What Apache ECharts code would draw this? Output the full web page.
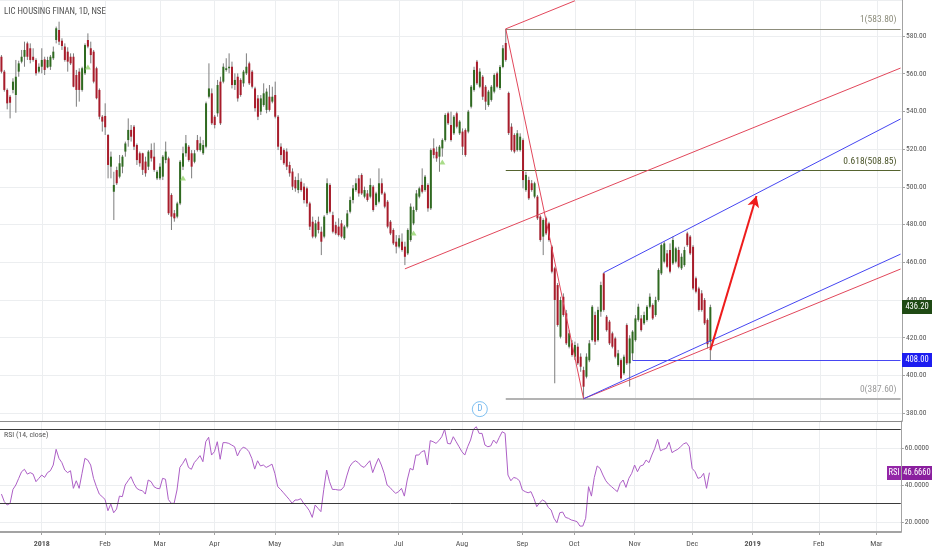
<!DOCTYPE html>
<html>
<head>
<meta charset="utf-8">
<title>LIC HOUSING FINAN, 1D, NSE</title>
<script src="https://cdn.jsdelivr.net/npm/echarts@6/dist/echarts.min.js"></script>
<style>
  html, body { margin: 0; padding: 0; background: #ffffff; }
  #chart { width: 932px; height: 550px; }
</style>
</head>
<body>
<div id="chart"></div>
<script>
// trading calendar (NSE), future part of the axis is plain weekdays
var firstDay = '2017-12-11';
var lastDay = '2019-03-13';
var holidays = ['2017-12-25', '2018-01-26', '2018-02-13', '2018-03-02', '2018-03-29', '2018-03-30',
  '2018-05-01', '2018-08-15', '2018-08-22', '2018-09-13', '2018-09-20', '2018-10-02', '2018-10-18',
  '2018-11-08', '2018-11-23'];
var monthNames = ['Jan', 'Feb', 'Mar', 'Apr', 'May', 'Jun', 'Jul', 'Aug', 'Sep', 'Oct', 'Nov', 'Dec'];

// daily bars from firstDay: [open, close, low, high]
var bars = [
  [569.0,561.1,560.2,569.9],[561.1,551.4,550.5,562.0],[551.4,544.3,541.1,552.2],[547.8,544.6,536.3,548.7],[551.4,555.8,549.6,557.6],
  [548.7,558.4,539.3,567.3],[561.1,565.5,558.4,566.9],[566.4,569.0,565.5,572.6],[569.0,572.6,563.7,577.0],[576.1,569.0,567.3,577.0],
  [573.5,567.3,565.5,576.1],[569.0,567.3,566.4,573.5],[567.3,560.2,559.0,568.2],[561.1,563.7,560.2,565.5],[563.7,567.3,560.2,573.5],
  [567.6,562.0,559.3,569.0],[563.4,567.3,562.9,569.0],[563.7,569.0,562.0,569.9],[568.2,571.7,567.3,574.4],[577.9,584.1,576.1,585.0],
  [583.2,577.0,575.2,587.6],[577.5,574.7,572.6,578.8],[574.4,567.3,566.4,576.1],[571.7,566.4,561.1,574.0],[569.0,565.5,564.6,570.8],
  [569.0,553.1,552.8,570.8],[559.3,551.4,542.5,562.0],[561.1,551.4,545.2,562.9],[551.4,562.9,550.5,563.7],[560.2,575.2,559.3,576.1],
  [577.9,574.4,573.5,581.4],[573.5,569.9,565.5,577.0],[571.7,555.8,554.9,572.6],[562.9,547.0,546.4,563.7],[551.4,537.2,535.8,552.2],
  [537.2,534.6,529.3,538.1],[537.6,531.6,527.5,544.3],[527.5,511.6,504.5,528.0],[510.7,516.0,504.5,518.7],[497.4,501.0,482.4,508.0],
  [508.9,501.9,501.0,510.7],[505.4,512.5,504.5,516.9],[510.7,516.0,507.2,516.9],[518.7,523.0,516.0,524.0],[524.8,530.2,521.3,536.3],
  [530.2,526.6,524.0,532.8],[531.9,521.3,519.5,532.8],[522.2,514.2,511.6,523.0],[517.8,512.5,510.7,518.7],[517.8,509.0,506.3,518.1],
  [513.4,507.2,505.4,516.0],[510.7,518.7,508.9,519.5],[519.5,515.1,513.4,523.0],[516.0,509.0,508.0,523.4],[504.5,508.0,503.6,508.9],
  [504.5,510.7,503.6,512.5],[505.4,516.0,503.6,516.9],[514.2,518.7,512.5,524.0],[515.1,486.0,485.1,516.0],[495.7,484.2,477.1,496.6],
  [486.0,483.3,481.5,487.7],[484.2,491.2,483.3,492.1],[491.2,513.3,490.3,514.2],[510.7,517.8,508.9,521.3],[517.8,523.1,516.0,527.5],
  [521.3,514.2,513.3,522.2],[517.8,510.7,504.5,519.5],[513.3,517.8,512.5,519.5],[524.8,519.5,518.7,527.5],[519.5,523.1,518.7,526.6],
  [517.8,522.2,516.9,524.8],[521.3,544.3,520.4,545.2],[547.8,552.2,546.9,565.5],[549.6,533.7,532.8,552.2],[537.2,532.8,531.0,538.1],
  [539.0,554.0,537.2,556.7],[555.8,533.7,532.8,558.4],[555.8,563.7,554.9,565.5],[562.0,562.9,561.1,568.2],[562.9,563.7,560.2,570.8],
  [563.7,554.0,552.2,566.4],[554.0,556.7,551.4,560.2],[558.4,546.9,545.2,560.2],[556.7,548.7,547.8,557.6],[554.9,561.1,553.1,562.0],
  [560.2,563.7,559.3,570.8],[565.5,554.9,554.0,566.4],[561.1,553.1,552.2,562.0],[552.2,541.7,539.9,553.1],[546.9,537.2,535.4,548.7],
  [539.9,546.9,538.1,548.7],[543.4,549.6,542.5,554.9],[540.8,550.5,539.0,552.2],[547.8,540.8,539.9,554.0],[545.2,547.8,544.3,553.1],
  [548.7,537.2,536.3,555.8],[537.2,521.3,519.5,538.1],[521.3,516.9,514.2,523.1],[519.5,512.5,511.6,520.4],[518.7,510.7,508.9,520.4],
  [511.6,507.2,505.4,513.3],[508.1,500.1,498.3,509.8],[503.6,499.2,497.4,505.4],[498.3,503.6,496.6,507.2],[502.7,498.3,497.4,504.5],
  [500.1,493.0,491.2,501.9],[499.2,491.2,489.4,500.1],[491.2,478.9,477.1,492.1],[481.5,473.6,472.7,484.2],[473.6,480.6,472.7,482.4],
  [481.5,477.1,475.3,484.2],[476.2,470.9,463.8,478.9],[473.6,484.2,472.7,485.0],[486.0,501.9,485.0,504.5],[501.0,486.8,485.9,501.9],
  [485.0,476.2,475.3,486.8],[479.7,475.3,474.4,481.5],[478.9,474.4,473.6,483.3],[480.6,473.6,472.7,482.4],[472.7,478.9,471.8,479.7],
  [478.9,485.9,478.0,487.7],[486.8,493.0,485.9,494.8],[493.0,499.2,491.2,501.0],[498.3,501.9,497.4,504.5],[504.5,496.5,494.8,506.3],
  [506.3,496.5,495.7,507.2],[494.8,498.3,493.9,500.1],[496.5,493.0,492.1,498.3],[494.8,501.0,493.9,504.5],[500.1,487.7,486.8,501.0],
  [490.4,496.5,489.5,497.4],[492.1,501.9,491.2,509.8],[501.9,496.5,495.7,504.5],[496.5,489.5,488.6,497.4],[492.1,478.9,478.0,493.0],
  [481.5,475.3,474.4,482.4],[477.1,470.0,469.1,478.0],[470.9,468.3,464.7,474.4],[468.3,472.7,467.4,474.4],[470.9,466.5,465.6,475.3],
  [468.3,462.9,458.5,470.9],[464.7,477.1,463.8,478.0],[471.8,489.5,470.9,491.2],[480.6,487.7,479.7,489.5],[487.7,496.5,486.8,498.3],
  [494.8,499.2,493.9,500.1],[501.0,497.4,496.5,509.8],[498.3,505.4,497.4,506.3],[501.0,488.6,486.8,501.9],[488.6,519.5,487.7,520.4],
  [520.4,516.9,515.1,525.7],[518.6,515.1,513.3,521.3],[516.0,521.3,508.0,522.2],[520.4,524.8,516.0,525.7],[524.8,538.1,524.0,539.0],
  [539.0,533.7,532.8,539.9],[532.8,524.8,524.0,539.9],[528.4,537.2,527.5,538.1],[539.0,531.9,531.0,539.9],[528.4,534.6,527.5,535.4],
  [529.3,521.3,516.9,531.0],[530.1,516.9,516.0,531.0],[529.3,539.9,528.4,540.8],[542.5,553.1,541.6,554.0],[551.4,562.0,550.5,563.7],
  [566.4,554.9,554.0,567.3],[553.1,561.1,552.3,562.9],[558.4,547.8,546.1,559.3],[553.1,545.2,540.8,554.0],[543.4,550.5,542.5,551.4],
  [546.1,553.1,545.2,554.0],[550.5,559.3,549.6,560.2],[560.2,553.1,552.3,561.1],[552.4,563.6,551.4,564.6],[563.6,573.5,562.9,575.2],
  [576.3,567.3,566.4,583.8],[549.8,528.5,527.5,550.5],[531.9,519.5,518.7,533.7],[527.5,518.7,517.8,528.4],[519.5,528.4,518.7,530.1],
  [519.5,526.6,518.7,528.4],[524.8,503.6,499.2,525.7],[498.3,506.3,497.4,508.0],[503.6,493.9,493.0,505.4],[501.9,498.3,497.4,503.6],
  [494.8,501.9,493.9,502.7],[494.8,483.3,482.4,495.7],[484.2,471.8,470.9,485.0],[473.6,482.4,463.8,483.3],[483.3,475.3,474.4,484.2],
  [480.6,471.8,470.9,481.5],[468.3,455.0,454.1,469.1],[456.8,440.0,395.8,457.6],[447.9,426.7,425.8,449.0],[420.5,440.0,419.6,441.7],
  [441.7,432.0,431.1,443.5],[432.9,417.0,416.1,434.7],[415.2,422.3,414.3,424.0],[417.0,410.8,409.9,418.7],[409.9,416.1,408.1,417.9],
  [415.2,406.4,405.5,417.0],[409.9,404.6,401.9,411.7],[402.8,394.0,387.6,404.6],[399.3,409.9,398.4,411.7],[408.0,417.0,407.0,418.7],
  [418.7,436.4,417.9,437.3],[432.0,417.9,416.1,433.8],[418.7,434.7,417.9,436.4],[433.8,447.9,431.1,449.7],[454.1,434.7,433.8,454.5],
  [431.1,424.0,423.2,432.0],[428.5,417.0,416.1,429.4],[422.3,415.2,414.3,423.2],[419.6,409.9,409.0,420.5],[405.5,411.7,404.6,413.5],
  [408.1,398.4,397.6,409.0],[401.1,409.9,400.2,411.0],[426.7,406.4,405.5,427.6],[406.4,419.6,394.0,421.3],[411.7,423.2,408.0,424.0],
  [418.7,430.2,417.9,432.0],[429.4,436.4,428.5,438.0],[430.2,424.0,423.2,432.0],[427.6,432.0,426.7,433.8],[429.4,436.4,428.5,437.3],
  [436.4,441.7,435.5,443.5],[437.3,430.2,429.4,438.2],[432.0,440.0,431.1,441.7],[440.0,455.9,439.1,456.8],[454.1,469.1,453.2,470.0],
  [460.3,470.0,459.4,471.0],[464.7,457.6,456.8,466.5],[466.5,455.0,454.1,470.0],[459.4,471.8,458.5,473.6],[460.3,467.4,459.4,468.2],
  [466.5,457.6,456.8,468.2],[456.8,462.9,455.9,464.7],[458.5,466.5,457.6,468.2],[475.3,469.1,468.2,476.2],[473.6,464.7,463.8,474.4],
  [468.2,446.1,445.2,469.1],[451.5,444.4,443.5,452.4],[446.1,434.7,433.8,447.0],[443.5,434.7,433.8,445.2],[440.0,427.6,426.7,441.0],
  [429.4,416.5,414.3,430.2],[417.9,436.2,408.0,437.5]
];

// RSI (14, close), one value per bar
var rsiValues = [
  35.1,31.0,29.2,30.1,37.6,40.0,43.6,47.2,48.5,45.9, 46.7,45.9,41.8,43.6,45.4,44.1,46.7,47.7,50.8,59.3,
  54.4,52.1,48.1,46.7,47.7,38.2,42.3,38.2,46.3,54.4, 53.5,50.8,43.6,39.1,35.1,33.7,32.2,26.1,29.7,25.0,
  27.0,34.0,33.7,40.0,42.3,44.5,40.9,38.2,37.3,36.9, 35.1,42.7,41.8,39.1,38.2,38.0,43.6,43.1,32.2,30.1,
  30.1,37.3,49.5,51.7,54.4,49.5,48.5,52.1,53.9,55.9, 52.6,63.4,65.8,56.2,58.0,63.4,53.9,62.9,62.9,62.5,
  61.6,60.7,55.7,58.9,60.4,59.8,58.0,54.4,48.6,53.1, 50.3,50.8,49.5,50.3,51.3,46.3,39.1,37.6,35.8,34.0,
  32.2,30.1,31.9,31.9,32.6,30.1,28.3,26.1,22.5,29.2, 27.4,25.6,37.6,48.1,41.8,37.6,37.6,37.3,37.3,39.1,
  44.9,49.9,52.1,53.1,52.1,50.3,49.5,51.3,53.1,46.7, 50.8,54.4,50.8,46.3,40.0,38.7,36.9,35.5,36.4,38.2,
  34.0,42.7,49.0,48.1,56.2,56.2,58.0,58.6,50.8,64.0, 63.4,62.5,64.0,66.1,70.1,62.5,62.2,66.1,63.4,60.7,
  58.0,56.2,60.7,64.3,70.1,71.5,67.9,67.9,61.6,60.7, 61.1,64.3,62.5,65.8,68.8,67.9,45.4,42.3,44.1,43.6,
  42.3,37.3,36.4,35.8,36.4,32.8,28.3,30.4,31.9,31.0, 27.9,26.5,22.0,19.6,25.0,25.4,22.5,22.0,21.1,20.7,
  20.2,17.8,17.8,22.0,39.1,34.0,44.1,50.3,49.0,45.4, 42.3,40.4,39.1,37.7,36.4,40.9,42.7,38.7,43.6,46.3,
  50.8,47.2,50.3,50.8,53.5,52.1,56.2,59.8,64.7,58.5, 59.3,59.8,63.1,57.5,58.5,59.3,60.7,62.2,62.9,60.7,
  49.0,47.2,43.6,44.1,46.3,38.2,46.666
];
var rsiBands = [70, 30];

// drawings on the price pane: [[date, price], [date, price]]
var fibStart = '2018-08-24';
var fibRatios = ['1', '0.618', '0'];
var fibPrices = [583.80, 508.85, 387.60];
var redLines = [
  [['2018-08-24', 583.8], ['2018-10-05', 387.6]],
  [['2018-08-24', 583.8], ['2018-10-01', 598.7]],
  [['2018-07-04', 456.5], ['2019-03-13', 563.0]],
  [['2018-10-05', 387.6], ['2019-03-13', 456.4]]
];
var blueLines = [
  [['2018-10-16', 454.5], ['2019-03-13', 536.0]],
  [['2018-10-05', 387.6], ['2019-03-13', 464.3]],
  [['2018-10-31', 408.0], ['2019-03-13', 408.0]]
];
var arrowLine = [['2018-12-11', 413.4], ['2019-01-02', 495.1]];
var patternMarks = [['2018-01-23', 563.6], ['2018-03-14', 504.7], ['2018-07-09', 475.5], ['2018-07-23', 513.2]];
var dividendMark = ['2018-08-09', 382.1];

var FONT = "'Roboto Condensed', Roboto, sans-serif";
var UP = '#2f6a20', DOWN = '#a81c2b', WICK = '#7d7d7d', GRID = '#eceef0';

function tradingDays(from, to) {
  var out = [];
  var d = new Date(from + 'T00:00:00Z'), end = new Date(to + 'T00:00:00Z');
  while (d <= end) {
    var wd = d.getUTCDay(), s = d.toISOString().slice(0, 10);
    if (wd !== 0 && wd !== 6 && holidays.indexOf(s) < 0) out.push(s);
    d.setUTCDate(d.getUTCDate() + 1);
  }
  return out;
}
var days = tradingDays(firstDay, lastDay);

function isMonthStart(i) {
  return i > 0 && days[i].slice(0, 7) !== days[i - 1].slice(0, 7);
}
function monthLabel(v) {
  var m = parseInt(v.slice(5, 7), 10) - 1;
  return m === 0 ? '{y|' + v.slice(0, 4) + '}' : monthNames[m];
}
function pt(p) { return [days.indexOf(p[0]), p[1]]; }

function segment(seg, style, endSymbol, label) {
  return [
    { coord: pt(seg[0]), symbol: 'none', lineStyle: style, label: label || { show: false } },
    { coord: pt(seg[1]), symbol: endSymbol || 'none' }
  ];
}

var drawings = [];
var fibColors = ['#8d8d7c', '#56642f', '#b3b3b3'];
var fibTextColors = ['#8d8d7c', '#4a5428', '#9a9a9a'];
fibPrices.forEach(function (p, k) {
  drawings.push(segment([[fibStart, p], [lastDay, p]],
    { color: fibColors[k], width: k === 2 ? 2 : 1, type: 'solid' }, 'none',
    { show: true, position: 'insideEndTop', distance: 4, formatter: fibRatios[k] + '(' + p.toFixed(2) + ')',
      color: fibTextColors[k], fontSize: 9.5, fontFamily: FONT }));
});
redLines.forEach(function (s) { drawings.push(segment(s, { color: '#e2475b', width: 1, type: 'solid' })); });
blueLines.forEach(function (s) { drawings.push(segment(s, { color: '#4646f2', width: 1, type: 'solid' })); });
drawings.push(segment(arrowLine, { color: '#ee1c1c', width: 2, type: 'solid' }, 'arrow'));

function renderCandle(params, api) {
  var i = api.value(0);
  var o = api.coord([i, api.value(1)]);
  var c = api.coord([i, api.value(2)]);
  var lo = api.coord([i, api.value(3)]);
  var hi = api.coord([i, api.value(4)]);
  var w = Math.max(1, Math.round(api.size([1, 0])[0] * 0.7));
  var top = Math.min(o[1], c[1]);
  var h = Math.max(1, Math.abs(o[1] - c[1]));
  return {
    type: 'group',
    children: [
      { type: 'line', shape: { x1: lo[0], y1: lo[1], x2: hi[0], y2: hi[1] }, style: { stroke: WICK, lineWidth: 1 } },
      { type: 'rect', shape: { x: o[0] - w / 2, y: top, width: w, height: h },
        style: { fill: api.value(2) >= api.value(1) ? UP : DOWN } }
    ]
  };
}

var chart = echarts.init(document.getElementById('chart'));
chart.setOption({
  animation: false,
  backgroundColor: '#ffffff',
  textStyle: { fontFamily: FONT },
  title: [
    { text: 'LIC HOUSING FINAN, 1D, NSE', left: 4, top: 7, padding: 0,
      textStyle: { fontSize: 8.8, fontWeight: 'normal', color: '#505050', fontFamily: FONT } },
    { text: 'RSI (14, close)', left: 4, top: 431, padding: 0,
      textStyle: { fontSize: 7.8, fontWeight: 'normal', color: '#555555', fontFamily: FONT } }
  ],
  grid: [
    { left: 0, right: 30, top: 0, height: 421 },
    { left: 0, right: 30, top: 421, height: 111 }
  ],
  xAxis: [
    { type: 'category', gridIndex: 0, data: days,
      axisLine: { show: true, lineStyle: { color: '#8c8c8c', width: 1 } },
      axisTick: { show: false }, axisLabel: { show: false },
      splitLine: { show: true, alignWithLabel: true, interval: function (i) { return isMonthStart(i); },
        lineStyle: { color: GRID } } },
    { type: 'category', gridIndex: 1, data: days,
      axisLine: { show: true, lineStyle: { color: '#a3a3a3', width: 2 } },
      axisTick: { show: true, alignWithLabel: true, length: 3, interval: function (i) { return isMonthStart(i); },
        lineStyle: { color: '#a3a3a3' } },
      axisLabel: { interval: function (i) { return isMonthStart(i); }, formatter: monthLabel,
        color: '#555555', fontSize: 8, margin: 8, fontFamily: FONT,
        rich: { y: { fontWeight: 'bold', fontSize: 8, color: '#555555', fontFamily: FONT } } },
      splitLine: { show: true, alignWithLabel: true, interval: function (i) { return isMonthStart(i); },
        lineStyle: { color: GRID } } }
  ],
  yAxis: [
    { type: 'value', gridIndex: 0, position: 'right', min: 375.8, max: 599.1, splitNumber: 11,
      axisLine: { show: true, lineStyle: { color: '#a3a3a3', width: 1 } },
      axisTick: { show: true, length: 3, lineStyle: { color: '#a3a3a3' } },
      axisLabel: { color: '#555555', fontSize: 7.5, margin: 4, fontFamily: FONT, showMinLabel: false, showMaxLabel: false,
        formatter: function (v) { return Math.abs(v % 20) < 1e-6 ? v.toFixed(2) : ''; } },
      splitLine: { show: true, lineStyle: { color: GRID } } },
    { type: 'value', gridIndex: 1, position: 'right', min: 14.6, max: 74.6, splitNumber: 3,
      axisLine: { show: true, lineStyle: { color: '#a3a3a3', width: 1 } },
      axisTick: { show: true, length: 3, lineStyle: { color: '#a3a3a3' } },
      axisLabel: { color: '#555555', fontSize: 7.5, margin: 4, fontFamily: FONT, showMinLabel: false, showMaxLabel: false,
        formatter: function (v) { return Math.abs(v % 20) < 1e-6 ? v.toFixed(4) : ''; } },
      splitLine: { show: true, lineStyle: { color: GRID } } }
  ],
  series: [
    { name: 'price', type: 'custom', xAxisIndex: 0, yAxisIndex: 0, clip: true,
      renderItem: renderCandle, encode: { x: 0, y: [1, 2, 3, 4] },
      data: bars.map(function (b, i) { return [i, b[0], b[1], b[2], b[3]]; }), z: 3 },
    { name: 'drawings', type: 'line', xAxisIndex: 0, yAxisIndex: 0, data: [], silent: true, z: 4,
      markLine: { silent: true, animation: false, symbol: ['none', 'none'], symbolSize: [9, 11],
        label: { show: false }, emphasis: { disabled: true }, data: drawings } },
    { name: 'patterns', type: 'scatter', xAxisIndex: 0, yAxisIndex: 0, symbol: 'triangle', symbolSize: [6, 5],
      itemStyle: { color: '#93d36c' }, silent: true, z: 5,
      data: patternMarks.map(pt) },
    { name: 'dividend', type: 'scatter', xAxisIndex: 0, yAxisIndex: 0, symbol: 'circle', symbolSize: 15, silent: true, z: 6,
      itemStyle: { color: '#ffffff', borderColor: '#62b2ee', borderWidth: 1 },
      label: { show: true, position: 'inside', formatter: 'D', color: '#3f9ae6', fontSize: 8.5, fontFamily: FONT },
      data: [pt(dividendMark)] },
    { name: 'RSI', type: 'line', xAxisIndex: 1, yAxisIndex: 1, data: rsiValues, showSymbol: false, silent: true,
      lineStyle: { color: '#ad5fc6', width: 1 },
      markLine: { silent: true, symbol: ['none', 'none'], label: { show: false },
        lineStyle: { color: '#3a3a3a', width: 1, type: 'solid' },
        data: rsiBands.map(function (v) { return { yAxis: v }; }) } }
  ]
});

// value tags on the right scale, placed through the axes
var axisX = chart.getWidth() - 30;
var lastClose = bars[bars.length - 1][1];
var supportLevel = blueLines[2][0][1];
var lastRsi = rsiValues[rsiValues.length - 1];
function tag(x, y, w, text, fill) {
  return [
    { type: 'rect', z: 50, shape: { x: x, y: Math.round(y) - 7, width: w, height: 14 }, style: { fill: fill } },
    { type: 'text', z: 51, x: x + w / 2, y: Math.round(y),
      style: { text: text, fill: '#ffffff', font: '8.5px ' + FONT, align: 'center', verticalAlign: 'middle' } }
  ];
}
var yLast = chart.convertToPixel({ yAxisIndex: 0 }, lastClose);
var ySupport = chart.convertToPixel({ yAxisIndex: 0 }, supportLevel);
var yRsi = chart.convertToPixel({ yAxisIndex: 1 }, lastRsi);
chart.setOption({
  graphic: [].concat(
    tag(axisX, yLast, 30, lastClose.toFixed(2), '#1f4a14'),
    tag(axisX, ySupport, 30, supportLevel.toFixed(2), '#1d1df0'),
    tag(axisX - 15, yRsi, 14, 'RSI', '#9426a8'),
    tag(axisX, yRsi, 30, lastRsi.toFixed(4), '#8a1f9e')
  )
});
</script>
</body>
</html>
